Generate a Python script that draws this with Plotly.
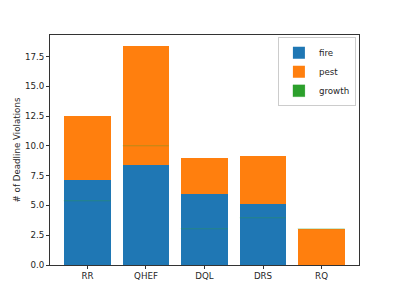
import plotly.graph_objects as go

categories = ["RR", "QHEF", "DQL", "DRS", "RQ"]
fire = [7.17, 8.36, 6.0, 5.13, 0.0]
pest = [5.35, 10.03, 3.0, 3.98, 3.0]
growth = [0.0, 0.0, 0.0, 0.0, 0.0]
y_ticks = [0, 2.5, 5, 7.5, 10, 12.5, 15, 17.5]

x = list(range(len(categories)))
fire_top = fire
font = dict(family="DejaVu Sans", size=8.7, color="#262626")

fig = go.Figure()
fig.add_trace(go.Bar(x=x, y=fire, base=[0]*len(x), name="fire", width=0.8,
                     marker=dict(color="#1f77b4", line=dict(width=0))))
fig.add_trace(go.Bar(x=x, y=pest, base=fire_top, name="pest", width=0.8,
                     marker=dict(color="#ff7f0e", line=dict(width=0))))
fig.add_trace(go.Bar(x=x, y=growth, base=pest, name="growth", width=0.8,
                     marker=dict(color="#2ca02c", line=dict(width=0.5, color="rgba(44,160,44,0.35)"))))

ymax = max(f + p for f, p in zip(fire, pest)) * 1.05
fig.update_layout(
    width=399, height=299,
    margin=dict(l=42, r=48, t=27, b=42, autoexpand=False),
    paper_bgcolor="white", plot_bgcolor="white",
    barmode="overlay",
    bargap=0,
    font=font,
    showlegend=True,
    legend=dict(x=0.99, y=0.99, xanchor="right", yanchor="top",
                bordercolor="#cccccc", borderwidth=1, bgcolor="white",
                font=dict(family="DejaVu Sans", size=8.7, color="#262626"),
                tracegroupgap=0, itemwidth=30),
)
fig.update_xaxes(
    range=[-0.64, 4.64], tickmode="array", tickvals=x, ticktext=categories,
    showline=True, linecolor="#333333", linewidth=1, mirror=True,
    ticks="outside", ticklen=3, tickcolor="#333333", showgrid=False, zeroline=False,
    tickfont=font, automargin=False,
)
fig.update_yaxes(
    range=[0, ymax], tickmode="array", tickvals=y_ticks,
    ticktext=[f"{v:.1f}" for v in y_ticks],
    showline=True, linecolor="#333333", linewidth=1, mirror=True,
    ticks="outside", ticklen=3, tickcolor="#333333", showgrid=False, zeroline=False,
    tickfont=font, automargin=False,
    title=dict(text="# of Deadline Violations", font=font, standoff=2),
)
fig.write_html("out.html")
